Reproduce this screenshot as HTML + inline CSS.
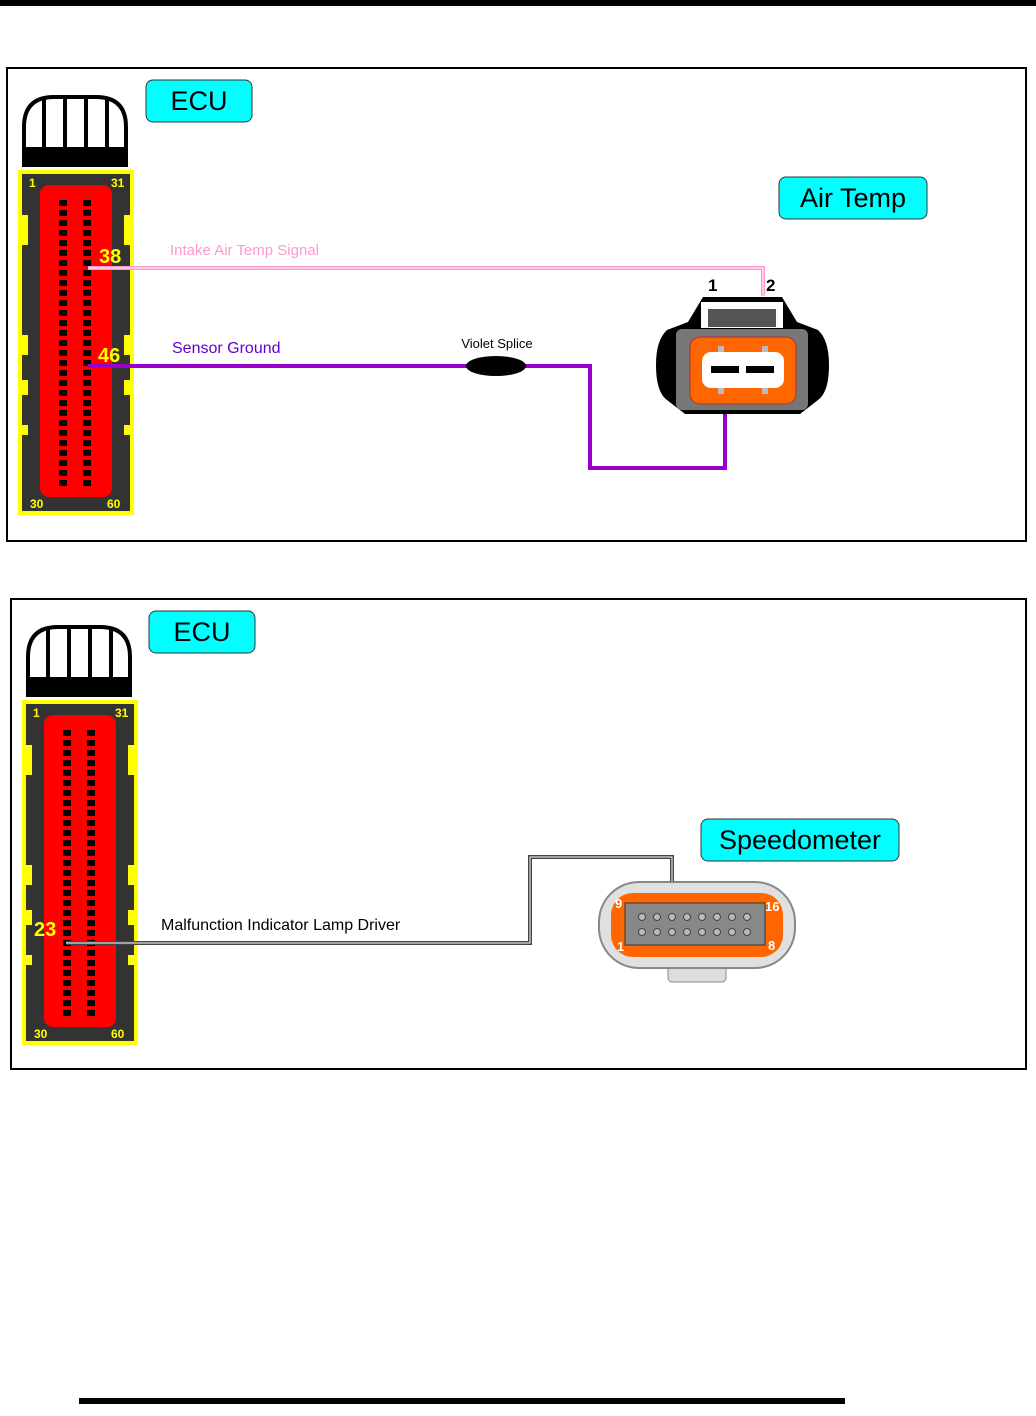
<!DOCTYPE html>
<html><head><style>
body{margin:0;background:#fff;}
svg{display:block;font-family:"Liberation Sans",sans-serif;}
</style></head><body>
<svg width="1036" height="1416" viewBox="0 0 1036 1416" xmlns="http://www.w3.org/2000/svg">
<defs>
<g id="ecu">
  <path d="M2,70 L2,32 Q2,2 32,2 L74,2 Q104,2 104,32 L104,70 Z" fill="#fff" stroke="#000" stroke-width="4"/>
  <rect x="0" y="52" width="106" height="20" fill="#000"/>
  <rect x="20" y="2" width="4" height="55" fill="#000"/>
  <rect x="41" y="2" width="4" height="55" fill="#000"/>
  <rect x="62" y="2" width="4" height="55" fill="#000"/>
  <rect x="83" y="2" width="4" height="55" fill="#000"/>
  <rect x="-4" y="75" width="116" height="345" fill="#ff0"/>
  <rect x="0" y="79" width="108" height="337" fill="#333"/>
  <g fill="#ff0">
    <rect x="0" y="120" width="6" height="30"/><rect x="102" y="120" width="6" height="30"/>
    <rect x="0" y="240" width="6" height="20"/><rect x="102" y="240" width="6" height="20"/>
    <rect x="0" y="285" width="6" height="15"/><rect x="102" y="285" width="6" height="15"/>
    <rect x="0" y="330" width="6" height="10"/><rect x="102" y="330" width="6" height="10"/>
  </g>
  <rect x="18" y="90" width="72" height="312" rx="9" fill="#f00"/>
  <g id="pins" fill="#000">
    <rect x="37" y="105" width="8" height="6"/><rect x="37" y="115" width="8" height="6"/><rect x="37" y="125" width="8" height="6"/><rect x="37" y="135" width="8" height="6"/><rect x="37" y="145" width="8" height="6"/><rect x="37" y="155" width="8" height="6"/><rect x="37" y="165" width="8" height="6"/><rect x="37" y="175" width="8" height="6"/><rect x="37" y="185" width="8" height="6"/><rect x="37" y="195" width="8" height="6"/><rect x="37" y="205" width="8" height="6"/><rect x="37" y="215" width="8" height="6"/><rect x="37" y="225" width="8" height="6"/><rect x="37" y="235" width="8" height="6"/><rect x="37" y="245" width="8" height="6"/><rect x="37" y="255" width="8" height="6"/><rect x="37" y="265" width="8" height="6"/><rect x="37" y="275" width="8" height="6"/><rect x="37" y="285" width="8" height="6"/><rect x="37" y="295" width="8" height="6"/><rect x="37" y="305" width="8" height="6"/><rect x="37" y="315" width="8" height="6"/><rect x="37" y="325" width="8" height="6"/><rect x="37" y="335" width="8" height="6"/><rect x="37" y="345" width="8" height="6"/><rect x="37" y="355" width="8" height="6"/><rect x="37" y="365" width="8" height="6"/><rect x="37" y="375" width="8" height="6"/><rect x="37" y="385" width="8" height="6"/>
  </g>
  <use href="#pins" x="24"/>
</g>
</defs>
<rect x="0" y="0" width="1036" height="6" fill="#000"/>
<rect x="79" y="1398" width="766" height="6" fill="#000"/>

<!-- Panel 1 -->
<rect x="7" y="68" width="1019" height="473" fill="#fff" stroke="#000" stroke-width="2"/>
<use href="#ecu" x="22" y="95"/>
<g font-size="12" font-weight="bold" fill="#ff0">
<text x="29" y="187">1</text><text x="111" y="187">31</text>
<text x="30" y="508">30</text><text x="107" y="508">60</text>
</g>
<g font-size="20" font-weight="bold" fill="#ff0"><text x="99" y="263">38</text><text x="98" y="362">46</text></g>
<rect x="146" y="80" width="106" height="42" rx="7" fill="#0ff" stroke="#333"/>
<text x="199" y="110" font-size="27" text-anchor="middle">ECU</text>
<rect x="779" y="177" width="148" height="42" rx="7" fill="#0ff" stroke="#333"/>
<text x="853" y="207" font-size="27" text-anchor="middle">Air Temp</text>

<path d="M88,268 L763,268 L763,296" fill="none" stroke="#ff99cc" stroke-width="4"/>
<path d="M88,268 L763,268 L763,296" fill="none" stroke="#fff" stroke-width="1"/>
<text x="170" y="255" font-size="15" fill="#ff99cc">Intake Air Temp Signal</text>
<path d="M88,366 L590,366 L590,468 L725,468 L725,414" fill="none" stroke="#9900cc" stroke-width="4"/>
<text x="172" y="353" font-size="16" fill="#6600cc">Sensor Ground</text>
<ellipse cx="496" cy="366" rx="30" ry="10" fill="#000"/>
<text x="497" y="348" font-size="13" text-anchor="middle">Violet Splice</text>

<!-- Air temp connector -->
<text x="708" y="291" font-size="17" font-weight="bold">1</text>
<text x="766" y="291" font-size="17" font-weight="bold">2</text>
<path d="M703,297 L782,297 L797,322 L818,330 Q829,340 829,365 Q829,392 818,400 L800,414 L685,414 L667,400 Q656,392 656,365 Q656,340 667,330 L688,322 Z" fill="#000"/>
<rect x="701" y="302" width="82" height="26" fill="#fff"/>
<rect x="708" y="309" width="68" height="18" fill="#555"/>
<rect x="676" y="329" width="132" height="81" rx="6" fill="#777"/>
<rect x="690" y="337" width="106" height="67" rx="10" fill="#f60" stroke="#a33" stroke-width="1"/>
<rect x="702" y="352" width="82" height="36" rx="9" fill="#fff"/>
<rect x="711" y="366" width="28" height="7" fill="#000"/>
<rect x="746" y="366" width="28" height="7" fill="#000"/>
<rect x="718" y="346" width="6" height="6" fill="#bbb"/><rect x="762" y="346" width="6" height="6" fill="#bbb"/>
<rect x="718" y="388" width="6" height="6" fill="#bbb"/><rect x="762" y="388" width="6" height="6" fill="#bbb"/>

<!-- Panel 2 -->
<rect x="11" y="599" width="1015" height="470" fill="#fff" stroke="#000" stroke-width="2"/>
<use href="#ecu" x="26" y="625"/>
<g font-size="12" font-weight="bold" fill="#ff0">
<text x="33" y="717">1</text><text x="115" y="717">31</text>
<text x="34" y="1038">30</text><text x="111" y="1038">60</text>
</g>
<text x="34" y="936" font-size="20" font-weight="bold" fill="#ff0">23</text>
<rect x="149" y="611" width="106" height="42" rx="7" fill="#0ff" stroke="#333"/>
<text x="202" y="641" font-size="27" text-anchor="middle">ECU</text>
<rect x="701" y="819" width="198" height="42" rx="7" fill="#0ff" stroke="#333"/>
<text x="800" y="849" font-size="27" text-anchor="middle">Speedometer</text>

<path d="M66,943 L530,943 L530,857 L672,857 L672,915" fill="none" stroke="#444" stroke-width="4"/>
<path d="M66,943 L530,943 L530,857 L672,857 L672,915" fill="none" stroke="#fff" stroke-width="1"/>
<text x="161" y="930" font-size="16">Malfunction Indicator Lamp Driver</text>

<!-- Speedometer connector -->
<rect x="668" y="962" width="58" height="20" rx="4" fill="#ddd" stroke="#888"/>
<rect x="599" y="882" width="196" height="86" rx="40" fill="#e0e0e0" stroke="#888" stroke-width="2"/>
<rect x="611" y="893" width="172" height="64" rx="22" fill="#f60"/>
<rect x="625" y="903" width="140" height="42" fill="#888" stroke="#333"/>
<g fill="#bbb" stroke="#444" stroke-width="1">
<circle cx="642" cy="917" r="3.5"/><circle cx="657" cy="917" r="3.5"/><circle cx="672" cy="917" r="3.5"/><circle cx="687" cy="917" r="3.5"/><circle cx="702" cy="917" r="3.5"/><circle cx="717" cy="917" r="3.5"/><circle cx="732" cy="917" r="3.5"/><circle cx="747" cy="917" r="3.5"/>
<circle cx="642" cy="932" r="3.5"/><circle cx="657" cy="932" r="3.5"/><circle cx="672" cy="932" r="3.5"/><circle cx="687" cy="932" r="3.5"/><circle cx="702" cy="932" r="3.5"/><circle cx="717" cy="932" r="3.5"/><circle cx="732" cy="932" r="3.5"/><circle cx="747" cy="932" r="3.5"/>
</g>
<g font-size="13" font-weight="bold" fill="#fff">
<text x="615" y="908">9</text><text x="765" y="911">16</text><text x="617" y="951">1</text><text x="768" y="950">8</text>
</g>
</svg>
</body></html>
